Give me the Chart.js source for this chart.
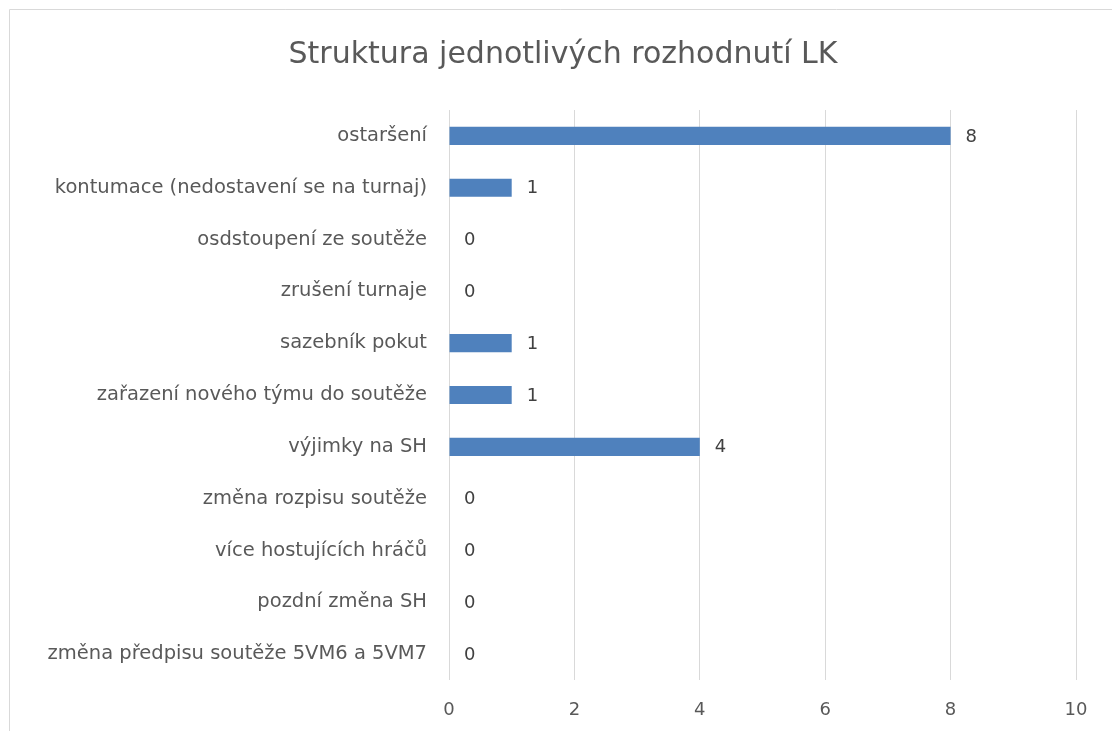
<!DOCTYPE html>
<html>
<head>
<meta charset="utf-8">
<script src="https://cdn.jsdelivr.net/npm/chart.js@4/dist/chart.umd.min.js"></script>
<style>
  html, body { margin: 0; padding: 0; background: #ffffff; }
  #wrap { width: 1112px; height: 731px; position: relative; }
</style>
</head>
<body>
<div id="wrap"><canvas id="c" width="1112" height="731"></canvas></div>
<script>
const chartTitle = "Struktura jednotlivých rozhodnutí LK";
const categories = [
  "ostaršení",
  "kontumace (nedostavení se na turnaj)",
  "osdstoupení ze soutěže",
  "zrušení turnaje",
  "sazebník pokut",
  "zařazení nového týmu do soutěže",
  "výjimky na SH",
  "změna rozpisu soutěže",
  "více hostujících hráčů",
  "pozdní změna SH",
  "změna předpisu soutěže 5VM6 a 5VM7"
];
const values = [8, 1, 0, 0, 1, 1, 4, 0, 0, 0, 0];
const xTicks = [0, 2, 4, 6, 8, 10];

const FONT = "'DejaVu Sans', sans-serif";

const frame = {
  id: 'frame',
  beforeDraw(chart) {
    const ctx = chart.ctx;
    ctx.save();
    ctx.strokeStyle = '#D9D9D9';
    ctx.lineWidth = 1;
    ctx.beginPath();
    ctx.moveTo(9.5, chart.height);
    ctx.lineTo(9.5, 9.5);
    ctx.lineTo(chart.width, 9.5);
    ctx.stroke();
    ctx.restore();
  },
  afterLayout(chart) {
    const t = chart.titleBlock;
    if (t) { t.left += 20; t.right += 20; }
  }
};

const valueLabels = {
  id: 'valueLabels',
  afterDatasetsDraw(chart) {
    const ctx = chart.ctx;
    const meta = chart.getDatasetMeta(0);
    ctx.save();
    ctx.font = "18px " + FONT;
    ctx.fillStyle = '#404040';
    ctx.textAlign = 'left';
    ctx.textBaseline = 'middle';
    meta.data.forEach((el, i) => {
      ctx.fillText(String(chart.data.datasets[0].data[i]), el.x + 15, el.y + 1);
    });
    ctx.restore();
  }
};

new Chart(document.getElementById('c'), {
  type: 'bar',
  data: {
    labels: categories,
    datasets: [{
      data: values,
      backgroundColor: '#4F81BD',
      borderWidth: 0,
      barPercentage: 0.35,
      categoryPercentage: 1.0
    }]
  },
  options: {
    indexAxis: 'y',
    responsive: false,
    animation: false,
    devicePixelRatio: 1,
    layout: { padding: { left: 10, right: 36, top: 10, bottom: 0 } },
    plugins: {
      legend: { display: false },
      tooltip: { enabled: false },
      title: {
        display: true,
        text: chartTitle,
        color: '#595959',
        font: { family: FONT, size: 30, weight: 'normal', lineHeight: 1.2 },
        padding: { top: 27, bottom: 37 }
      }
    },
    scales: {
      x: {
        min: 0,
        max: 10,
        afterBuildTicks(scale) { scale.ticks = xTicks.map(v => ({ value: v })); },
        afterFit(scale) { scale.height = 51; },
        grid: { color: '#D9D9D9', lineWidth: 1, drawTicks: false },
        border: { display: false },
        ticks: {
          color: '#595959',
          padding: 20,
          font: { family: FONT, size: 18 }
        }
      },
      y: {
        afterFit(scale) { scale.width = 439; },
        grid: { display: false, drawTicks: false },
        border: { display: false },
        ticks: {
          color: '#595959',
          padding: 22,
          autoSkip: false,
          font: { family: FONT, size: 19.5 }
        }
      }
    }
  },
  plugins: [frame, valueLabels]
});
</script>
</body>
</html>
